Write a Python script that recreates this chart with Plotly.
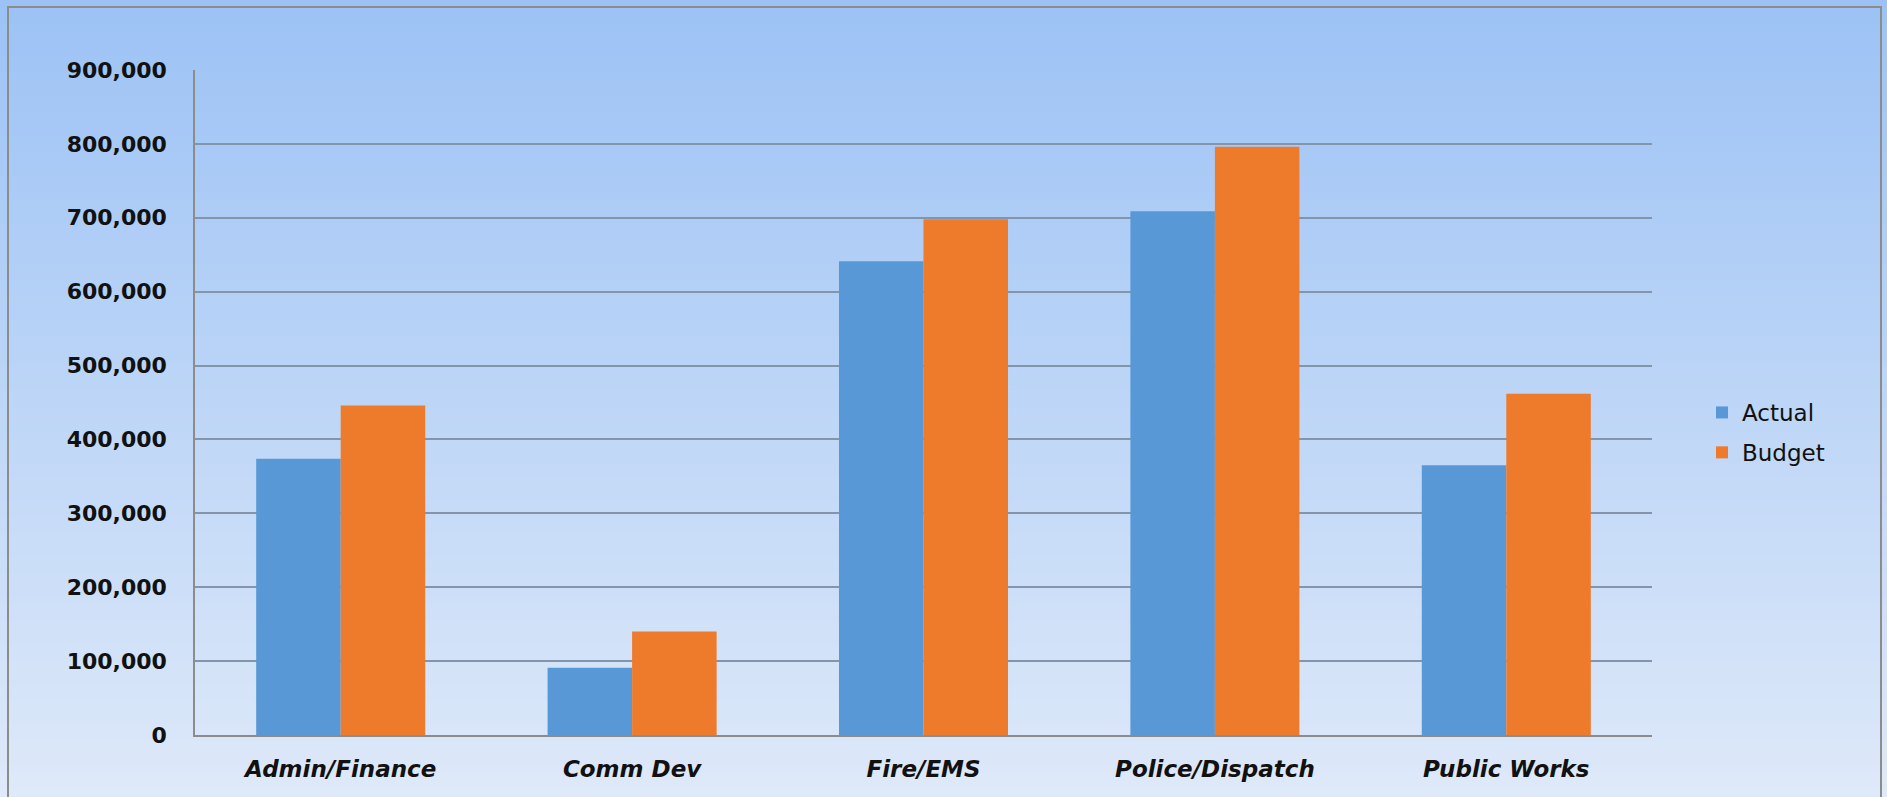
import plotly.graph_objects as go

categories = ["Admin/Finance", "Comm Dev", "Fire/EMS", "Police/Dispatch", "Public Works"]
actual = [374000, 91000, 641000, 709000, 365000]
budget = [446000, 140000, 698000, 796000, 462000]
y_ticks = [0, 100000, 200000, 300000, 400000, 500000, 600000, 700000, 800000, 900000]

W, H = 1887, 797
L, R, T, B = 195, 235, 70, 62
pw, ph = W - L - R, H - T - B

def px_to_paper_x(px):
    return (px - L) / pw

def px_to_paper_y(py):
    return (H - B - py) / ph

fig = go.Figure()
fig.add_trace(go.Bar(name="Actual", x=categories, y=actual, legendgroup="a",
                     marker=dict(color="#5898D6", line=dict(width=0))))
fig.add_trace(go.Bar(name="Budget", x=categories, y=budget, legendgroup="b",
                     marker=dict(color="#EE7A2C", line=dict(width=0))))

# vertical gradient background made of thin strips
top_c = (0x9C, 0xC2, 0xF5)
bot_c = (0xDE, 0xE9, 0xF9)
n = 100
shapes = []
for i in range(n):
    y0 = i * H / n
    y1 = (i + 1) * H / n + 1
    f = i / (n - 1)
    c = tuple(int(round(top_c[k] + (bot_c[k] - top_c[k]) * f)) for k in range(3))
    shapes.append(dict(type="rect", xref="paper", yref="paper", layer="below",
                       x0=px_to_paper_x(0), x1=px_to_paper_x(W),
                       y0=px_to_paper_y(y1), y1=px_to_paper_y(y0),
                       line=dict(width=0), fillcolor="rgb(%d,%d,%d)" % c))
# outer border
shapes.append(dict(type="rect", xref="paper", yref="paper", layer="above",
                   x0=px_to_paper_x(8), x1=px_to_paper_x(1881),
                   y0=px_to_paper_y(800), y1=px_to_paper_y(7),
                   line=dict(width=2, color="#8C8C8C"), fillcolor="rgba(0,0,0,0)"))

fig.update_layout(
    width=W, height=H,
    margin=dict(l=L, r=R, t=T, b=B, pad=0),
    paper_bgcolor="#DDE9F9",
    plot_bgcolor="rgba(0,0,0,0)",
    barmode="group",
    bargap=0.42,
    bargroupgap=0,
    shapes=shapes,
    font=dict(family="DejaVu Sans", color="#000000"),
    legend=dict(x=px_to_paper_x(1702), y=px_to_paper_y(391), xanchor="left", yanchor="top",
                bgcolor="rgba(0,0,0,0)", font=dict(size=23, family="DejaVu Sans", color="#111111"),
                itemwidth=30, tracegroupgap=7),
    showlegend=True,
)
fig.update_yaxes(range=[0, 900000], tickvals=y_ticks, tickformat=",",
                 showgrid=True, gridcolor="#8295AB", gridwidth=1.5,
                 showline=True, linecolor="#8C8C8C", linewidth=1.5,
                 zeroline=False, ticks="", ticklabelstandoff=22,
                 tickfont=dict(size=22, family="DejaVu Sans", weight="bold", color="#111111"))
fig.update_xaxes(showline=True, linecolor="#8C8C8C", linewidth=1.5, showgrid=False,
                 ticks="", ticklabelstandoff=13,
                 tickfont=dict(size=23, family="DejaVu Sans", weight="bold", style="italic",
                               color="#111111"))

fig.write_html("out.html")
